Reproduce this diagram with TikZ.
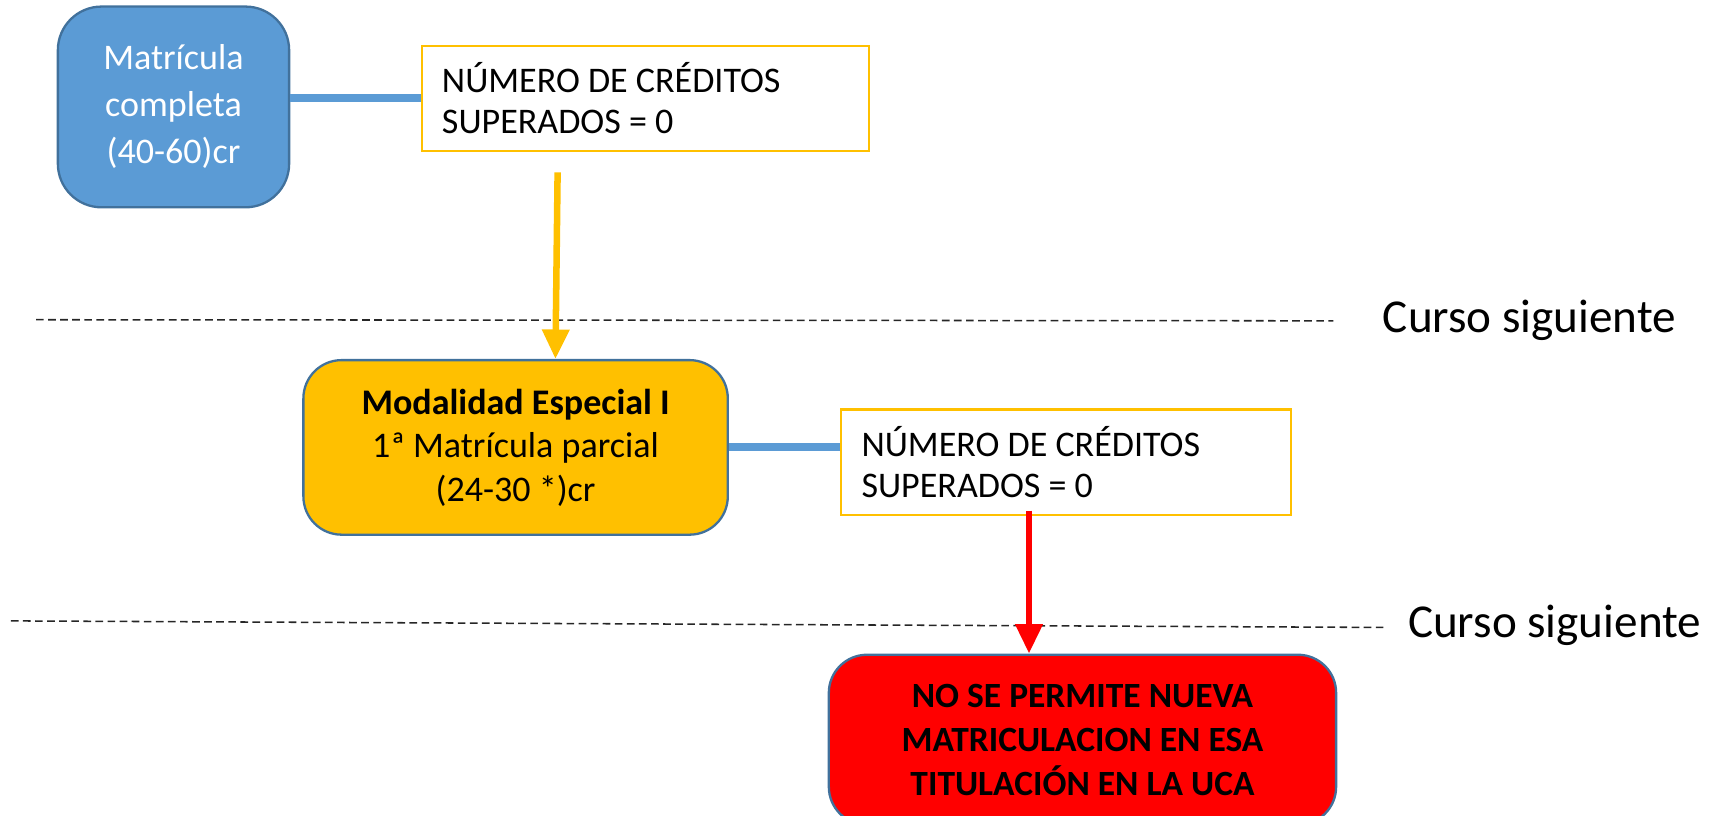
\documentclass[tikz,border=0pt]{standalone}
\usepackage{fontspec}
\setmainfont{Carlito}
\usetikzlibrary{arrows.meta}
\definecolor{boxblue}{HTML}{5B9BD5}
\definecolor{edgeblue}{HTML}{41719C}
\definecolor{gold}{HTML}{FFC000}
\definecolor{stopred}{HTML}{FF0000}

\begin{document}
\begin{tikzpicture}[x=0.02cm,y=-0.02cm,
		main node/.style={rectangle,rounded corners=0.7cm,draw=edgeblue,line width=1.2pt,align=center,inner sep=0pt,font=\fontsize{18.8}{22.7}\selectfont},
		note node/.style={rectangle,draw=gold,line width=1.1pt,align=flush left,inner xsep=0.37cm,inner ysep=0pt,text width=7.46cm,minimum height=1.93cm,font=\fontsize{18.8}{21.5}\selectfont},
		level node/.style={anchor=west,inner sep=0pt,font=\fontsize{24.6}{28}\selectfont},
		level line/.style={dash pattern=on 4pt off 2.3pt,line width=0.8pt,black!85},
		blue link/.style={draw=boxblue,line width=4.2pt},
		down arrow/.style={line width=3.4pt,-{Triangle[width=0.48cm,length=0.54cm]}}]
		
		\useasboundingbox (0,0) rectangle (1568,747);
		\clip (0,0) rectangle (1568,747);
		
		\node[main node,fill=boxblue,text=white,minimum width=4.24cm,minimum height=3.68cm,rounded corners=0.8cm,font=\fontsize{18.8}{24.5}\selectfont] (1) at (159,98) {Matrícula\\completa\\(40-60)cr};
		\node[note node] (2) at (591.5,90) {NÚMERO DE CRÉDITOS\\SUPERADOS = 0};
		\node[main node,fill=gold,minimum width=7.78cm,minimum height=3.2cm] (3) at (472.5,410) {\textbf{Modalidad Especial I}\\1ª Matrícula parcial\\(24-30 *)cr};
		\node[note node,text width=7.5cm] (4) at (977,423.5) {NÚMERO DE CRÉDITOS\\SUPERADOS = 0};
		\node[main node,fill=stopred,minimum width=9.3cm,minimum height=3.12cm,font=\fontsize{18.5}{23}\selectfont\bfseries] (5) at (992,678) {NO SE PERMITE NUEVA\\MATRICULACION EN ESA\\TITULACIÓN EN LA UCA};
		
		\node[level node] (c1) at (1267,294) {Curso siguiente};
		\node[level node] (c2) at (1290,573) {Curso siguiente};
		
		\coordinate (d1) at (33,293);
		\coordinate (e1) at (1222,294);
		\coordinate (d2) at (10,569);
		\coordinate (e2) at (1270,575);
		\coordinate (a1) at (511,158);
		\coordinate (a2) at (509,0);
		\coordinate (b1) at (943,468);
		
		\draw[level line] (d1) -- (e1);
		\draw[level line] (d2) -- (e2);
		
		\path[blue link]
		(2.west -| 1.east) edge (2.west)
		(3.east) edge (3.east -| 4.west);
		
		\draw[down arrow,gold] (a1) -- (3.north -| a2);
		\draw[down arrow,stopred] (b1) -- (5.north -| b1);
		\end{tikzpicture}
\end{document}
